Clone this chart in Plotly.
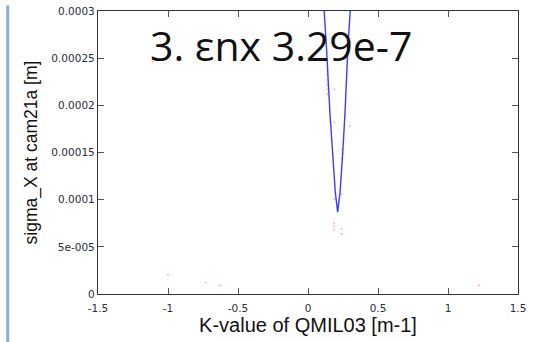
import plotly.graph_objects as go

# Fitted curve (K-value, sigma_X)
fit_k = [0.107, 0.116, 0.131, 0.157, 0.174, 0.195, 0.212, 0.229, 0.248, 0.264, 0.286, 0.300, 0.310]
fit_s = [0.00032, 0.00030, 0.0002637, 0.000191, 0.0001495, 0.000108, 0.0000867,
         0.000108, 0.0001495, 0.000191, 0.0002637, 0.00030, 0.00032]

# Measured points
meas_k = [0.138, 0.138, 0.138, 0.138, 0.138, 0.188, 0.188, 0.298,
          0.243, 0.243, 0.243, 0.24, 0.188, 0.186, 0.186, 0.186, 0.24, 0.24,
          -0.731, -0.626, -1.00, -1.11, 1.221]
meas_s = [0.000232, 0.000227, 0.000222, 0.000217, 0.000212, 0.000217, 0.000182, 0.000178,
          0.000153, 0.000149, 0.000144, 0.000106, 0.000101, 0.000075, 0.0000715, 0.000068,
          0.000069, 0.0000636,
          0.0000121, 0.000009, 0.0000204, 0.000246, 0.0000093]

y_ticks = [0, 0.00005, 0.0001, 0.00015, 0.0002, 0.00025, 0.0003]
y_tick_text = ["0", "5e-005", "0.0001", "0.00015", "0.0002", "0.00025", "0.0003"]
x_ticks = [-1.5, -1, -0.5, 0, 0.5, 1, 1.5]
x_tick_text = ["-1.5", "-1", "-0.5", "0", "0.5", "1", "1.5"]

fig = go.Figure()
fig.add_trace(go.Scatter(x=meas_k, y=meas_s, mode="markers",
                         marker=dict(color="rgba(235,60,80,0.45)", size=1.8, line=dict(width=0)),
                         showlegend=False, hoverinfo="skip"))
fig.add_trace(go.Scatter(x=fit_k, y=fit_s, mode="lines",
                         line=dict(color="rgb(60,60,255)", width=1.4),
                         showlegend=False, hoverinfo="skip"))

axis_common = dict(showline=True, linecolor="#333333", linewidth=1.3, mirror="ticks",
                   ticks="inside", ticklen=6, tickcolor="#555555", tickwidth=1.3,
                   showgrid=False, zeroline=False, ticklabeloverflow="allow",
                   tickfont=dict(family="DejaVu Sans", size=10.5, color="#2b2b40"))

fig.update_xaxes(range=[-1.5, 1.5], tickvals=x_ticks, ticktext=x_tick_text,
                 ticklabelstandoff=4,
                 title=dict(text="K-value of QMIL03 [m-1]", standoff=2,
                            font=dict(family="Liberation Sans", size=20, color="#111111")),
                 **axis_common)
fig.update_yaxes(range=[0, 0.00030001], tickvals=y_ticks, ticktext=y_tick_text,
                 title=dict(text="sigma_X at cam21a [m]", standoff=9,
                            font=dict(family="Liberation Sans", size=17.5, color="#111111")),
                 **axis_common)

fig.add_annotation(text="3. εnx 3.29e-7", xref="paper", yref="paper",
                   x=0.12, y=0.879, xanchor="left", yanchor="middle", showarrow=False,
                   font=dict(family="Open Sans", size=41, color="#111111"))

fig.add_shape(type="line", xref="paper", yref="paper", x0=-0.215, x1=-0.215, y0=-0.17, y1=1.02,
              line=dict(color="#8aaed4", width=3), layer="above")

fig.update_layout(width=537, height=342, margin=dict(l=98, r=19, t=5, b=48),
                  paper_bgcolor="white", plot_bgcolor="white")

fig.write_html("out.html")
